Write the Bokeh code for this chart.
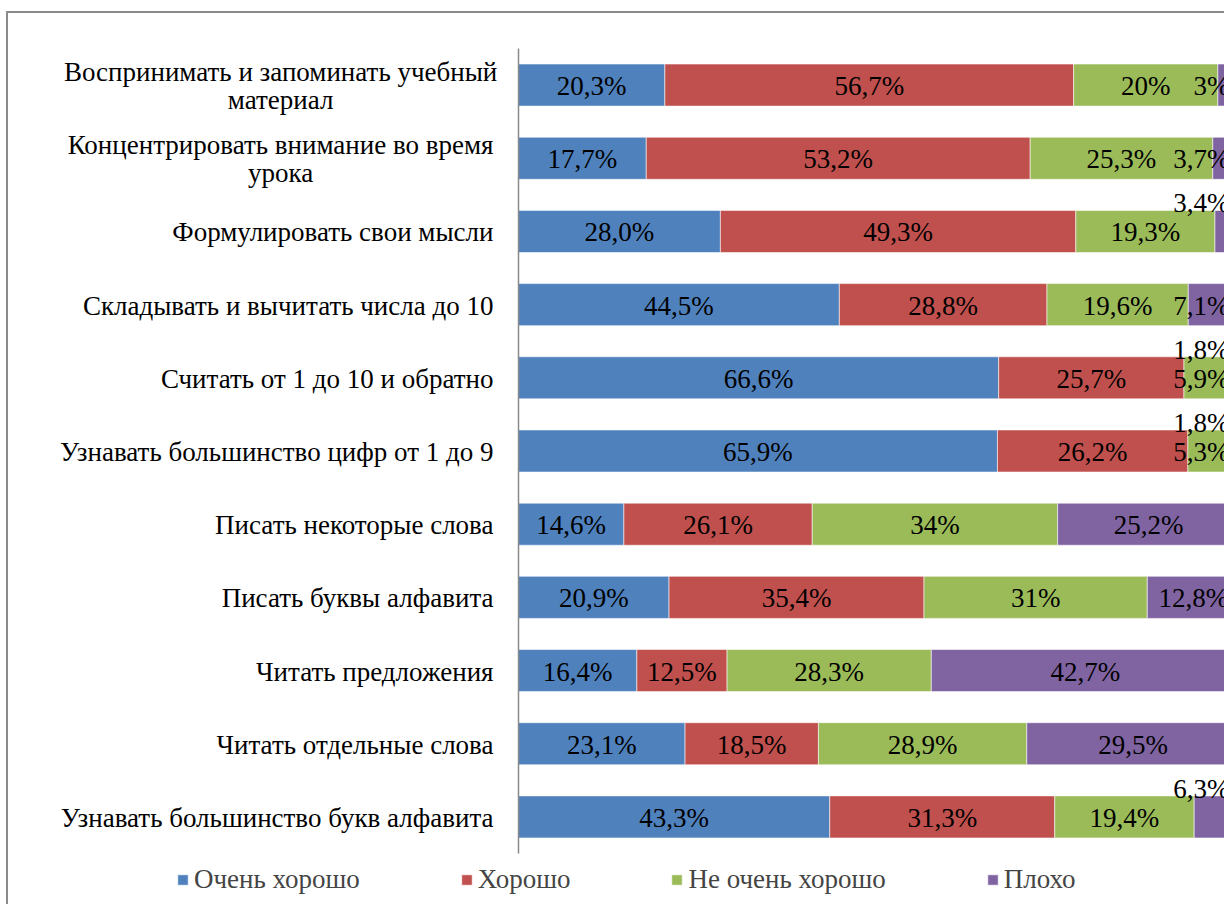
from bokeh.plotting import figure
from bokeh.models import ColumnDataSource, Range1d, Legend, LegendItem
from bokeh.core.properties import value
from bokeh.embed import file_html
from bokeh.resources import INLINE

categories = [
    "Воспринимать и запоминать учебный\nматериал",
    "Концентрировать внимание во время\nурока",
    "Формулировать свои мысли",
    "Складывать и вычитать числа до 10",
    "Считать от 1 до 10 и обратно",
    "Узнавать большинство цифр от 1 до 9",
    "Писать некоторые слова",
    "Писать буквы алфавита",
    "Читать предложения",
    "Читать отдельные слова",
    "Узнавать большинство букв алфавита",
]
series = ["Очень хорошо", "Хорошо", "Не очень хорошо", "Плохо"]
very_good = [20.3, 17.7, 28.0, 44.5, 66.6, 65.9, 14.6, 20.9, 16.4, 23.1, 43.3]
good = [56.7, 53.2, 49.3, 28.8, 25.7, 26.2, 26.1, 35.4, 12.5, 18.5, 31.3]
not_very_good = [20, 25.3, 19.3, 19.6, 5.9, 5.3, 34, 31, 28.3, 28.9, 19.4]
bad = [3, 3.7, 3.4, 7.1, 1.8, 1.8, 25.2, 12.8, 42.7, 29.5, 6.3]

colors = ["#4F81BD", "#C0504D", "#9BBB59", "#8064A2"]
FONT = "Liberation Serif"
FS = "27px"

all_vals = [very_good, good, not_very_good, bad]
keys = ["s0", "s1", "s2", "s3"]
n = len(categories)
ypos = [n - i - 0.5 for i in range(n)]
totals = [sum(v[i] for v in all_vals) for i in range(n)]
norm = {k: [v[i] / totals[i] * 100 for i in range(n)] for k, v in zip(keys, all_vals)}
src = ColumnDataSource(dict(y=ypos, **norm))

# frame covers the whole canvas; category labels and legend are drawn inside it
p = figure(
    width=1218, height=893,
    x_range=Range1d(-70.74, 98.2),
    y_range=Range1d(-0.724, 11.478),
    output_backend="svg", toolbar_location=None,
    x_axis_location=None, y_axis_location=None,
    min_border_left=0, min_border_right=0, min_border_top=0, min_border_bottom=0,
    styles={"border-left": "2px solid #8a8a8a", "border-top": "2px solid #8a8a8a",
            "margin-top": "11px", "margin-left": "6px"},
)
p.outline_line_color = None
p.grid.visible = False
p.background_fill_color = "white"
p.border_fill_color = "white"

rs = p.hbar_stack(keys, y="y", height=0.575, color=colors, source=src,
                  line_color="white", line_width=0.8, line_alpha=0.7)

# category axis line
p.segment(x0=[0], y0=[0], x1=[0], y1=[n], line_color="#8a8a8a", line_width=1.5)

# category labels
cx, cy, ct, ca, co = [], [], [], [], []
label_right = -3.47
two_line_center = -33.0
for i, cat in enumerate(categories):
    lines = cat.split("\n")
    if len(lines) == 1:
        cx.append(label_right); cy.append(ypos[i]); ct.append(cat); ca.append("right"); co.append(1)
    else:
        for k, line in enumerate(lines):
            cx.append(two_line_center); cy.append(ypos[i]); ct.append(line)
            ca.append("center"); co.append(-13 + 28 * k)
p.text(x="x", y="y", text="t", text_align="a", y_offset="o",
       source=ColumnDataSource(dict(x=cx, y=cy, t=ct, a=ca, o=co)),
       text_baseline="middle", text_font=value(FONT), text_font_size=FS,
       text_color="black")

# value labels
clamp_x = 98.6
raised = {(2, 3), (4, 3), (5, 3), (10, 3)}
lx, ly, lt, la, lo = [], [], [], [], []
for i in range(n):
    cum = 0.0
    for j, k in enumerate(keys):
        w = norm[k][i]
        c = cum + w / 2
        cum += w
        txt = str(all_vals[j][i]).replace(".", ",") + "%"
        if c > 95:
            lx.append(clamp_x); la.append("right")
        else:
            lx.append(c); la.append("center")
        ly.append(ypos[i])
        lt.append(txt)
        lo.append(-28 if (i, j) in raised else 1)

p.text(x="x", y="y", text="t", text_align="a", y_offset="o",
       source=ColumnDataSource(dict(x=lx, y=ly, t=lt, a=la, o=lo)),
       text_baseline="middle", text_font=value(FONT), text_font_size=FS,
       text_color="black")

legend = Legend(
    items=[LegendItem(label=s, renderers=[r]) for s, r in zip(series, rs)],
    orientation="horizontal",
    location=(168, 11),
    label_text_font=FONT, label_text_font_size=FS,
    glyph_width=13, glyph_height=13, label_standoff=5, spacing=100,
    padding=0, margin=0,
    border_line_color=None, background_fill_alpha=0,
)
p.add_layout(legend, "center")

open("out.html", "w").write(file_html(p, INLINE))
